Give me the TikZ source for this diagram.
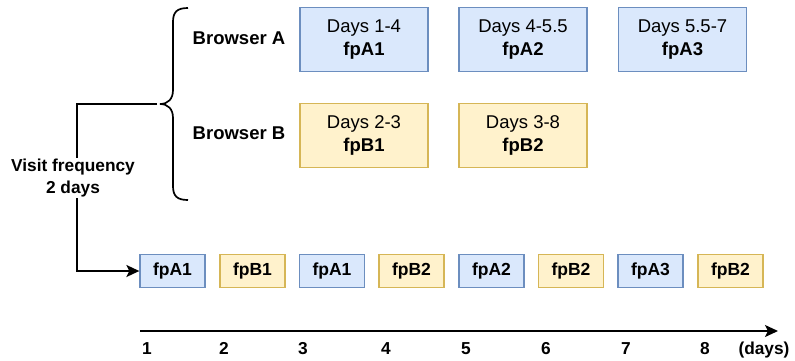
\documentclass[tikz,border=0pt]{standalone}
\usepackage{fontspec}
\setmainfont{Liberation Sans}
\usetikzlibrary{arrows.meta}
\definecolor{blueFill}{HTML}{DAE8FC}
\definecolor{blueLine}{HTML}{6C8EBF}
\definecolor{yellowFill}{HTML}{FFF2CC}
\definecolor{yellowLine}{HTML}{D6B656}

\begin{document}
\begin{tikzpicture}[x=1pt, y=-1pt,
		txt/.style={font=\fontsize{18.5}{23}\selectfont, align=center, inner sep=1pt},
		bigA/.style={txt, draw=blueLine, fill=blueFill, line width=1.3pt, minimum width=128pt, minimum height=64pt},
		bigB/.style={bigA, draw=yellowLine, fill=yellowFill},
		smallA/.style={bigA, minimum width=65pt, minimum height=33pt, font=\fontsize{17.5}{23}\selectfont\bfseries},
		smallB/.style={smallA, draw=yellowLine, fill=yellowFill},
		label/.style={txt, font=\fontsize{18.5}{23}\selectfont\bfseries},
		tick/.style={txt, font=\fontsize{17.3}{22}\selectfont\bfseries},
		arr/.style={line width=1.7pt, -{Stealth[length=13pt, width=12pt, inset=3pt]}}]
		%%%%% START %%%%%
		
		\useasboundingbox (0, 0) rectangle (795, 360);
		
		% browsers and their fingerprints
		\node[label] (brA) at (239, 38) {Browser A};
		\node[label] (brB) at (239, 133) {Browser B};
		
		\node[bigA] (dA1) at (364, 39.7) {Days 1-4\\\textbf{fpA1}};
		\node[bigA] (dA2) at (523, 39.7) {Days 4-5.5\\\textbf{fpA2}};
		\node[bigA] (dA3) at (682.5, 39.7) {Days 5.5-7\\\textbf{fpA3}};
		
		\node[bigB] (dB1) at (364, 135.5) {Days 2-3\\\textbf{fpB1}};
		\node[bigB] (dB2) at (523, 135.5) {Days 3-8\\\textbf{fpB2}};
		
		% curly brace
		\draw[line width=1.7pt] (188, 8) .. controls (177, 8) and (173, 12) .. (173, 22) -- (173, 90)
			.. controls (173, 99) and (168, 104) .. (160, 104)
			.. controls (168, 104) and (173, 109) .. (173, 118) -- (173, 186)
			.. controls (173, 196) and (177, 200) .. (188, 200);
		
		% collected fingerprints
		\node[smallA] (v1) at (172.5, 271) {fpA1};
		\node[smallB] (v2) at (252.5, 271) {fpB1};
		\node[smallA] (v3) at (332, 271) {fpA1};
		\node[smallB] (v4) at (411.5, 271) {fpB2};
		\node[smallA] (v5) at (491.5, 271) {fpA2};
		\node[smallB] (v6) at (571, 271) {fpB2};
		\node[smallA] (v7) at (650.5, 271) {fpA3};
		\node[smallB] (v8) at (730.5, 271) {fpB2};
		
		% visit connector
		\coordinate (tip) at (157, 104);
		\coordinate (bend) at (77, 104);
		\draw[arr] (tip) -- (bend) |- (v1.west);
		\node[tick, fill=white] (visit) at (73, 178) {Visit frequency\\2 days};
		
		% time axis
		\coordinate (ax0) at (140, 331);
		\coordinate (ax1) at (778, 331);
		\draw[arr] (ax0) -- (ax1);
		
		\node[tick, anchor=base] (t1) at (147, 354) {1};
		\node[tick, anchor=base] (t2) at (224, 354) {2};
		\node[tick, anchor=base] (t3) at (303, 354) {3};
		\node[tick, anchor=base] (t4) at (386, 354) {4};
		\node[tick, anchor=base] (t5) at (466, 354) {5};
		\node[tick, anchor=base] (t6) at (546, 354) {6};
		\node[tick, anchor=base] (t7) at (626, 354) {7};
		\node[tick, anchor=base] (t8) at (705, 354) {8};
		\node[tick, anchor=base] (tdays) at (764, 354) {(days)};
		
		%%%%% END %%%%%
\end{tikzpicture}
\end{document}
